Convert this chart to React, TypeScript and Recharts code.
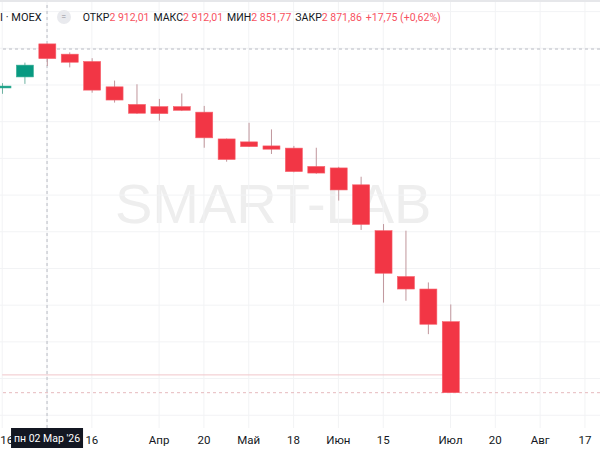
import {
  Bar,
  ComposedChart,
  ReferenceLine,
  XAxis,
  YAxis,
} from "recharts";

// weekly bars, Monday dates
const weeks = [
  "16.02", "23.02", "02.03", "09.03", "16.03", "23.03", "30.03", "06.04",
  "13.04", "20.04", "27.04", "04.05", "11.05", "18.05", "25.05", "01.06",
  "08.06", "15.06", "22.06", "29.06", "06.07", "13.07", "20.07", "27.07",
  "03.08", "10.08", "17.08", "24.08", "31.08",
];

const opens = [
  2792, 2822, 2912.01, 2884, 2864, 2795, 2747, 2741, 2741, 2726, 2653,
  2645, 2634, 2628, 2578, 2574, 2528, 2403, 2278, 2244, 2155,
];
const highs = [
  2805, 2861, 2912.01, 2889, 2873, 2812, 2802, 2762, 2777, 2743, 2654,
  2697, 2679, 2634, 2629, 2577, 2550, 2421, 2403, 2262, 2202,
];
const lows = [
  2776, 2803, 2851.77, 2848, 2779, 2752, 2721, 2703, 2729, 2629, 2591,
  2631, 2612, 2562, 2558, 2485, 2405, 2207, 2212, 2121, 1961.5,
];
const closes = [
  2797, 2854.11, 2871.86, 2862, 2786, 2759, 2723, 2722, 2731, 2656, 2597,
  2632, 2625, 2564, 2560, 2514, 2420, 2287, 2244, 2148, 1961.5,
];

const tickWeeks = [
  "16.02", "16.03", "06.04", "20.04", "04.05", "18.05", "01.06", "15.06",
  "06.07", "20.07", "03.08", "17.08",
];
const tickLabels = [
  "16", "16", "Апр", "20", "Май", "18", "Июн", "15", "Июл", "20", "Авг", "17",
];
const gridWeeks = ["02.03", ...tickWeeks];
const gridPrices = [1900, 2000, 2100, 2200, 2300, 2400, 2500, 2600, 2700, 2800, 2900, 3000];

const levelPrice = 2010;
const crosshairWeek = "02.03";
const crosshairPrice = 2898;
const crosshairText = "пн 02 Мар '26";

const UP = "#089981";
const DOWN = "#f23645";
const DOMAIN: [number, number] = [1865.3, 3031.6];
const CHART_W = 650;
const CHART_H = 450;
const AXIS_H = 22;

const data = weeks.map((week, i) =>
  i < opens.length
    ? {
        week,
        open: opens[i],
        high: highs[i],
        low: lows[i],
        close: closes[i],
        range: [lows[i], highs[i]],
      }
    : { week }
);

const lastClose = closes[closes.length - 1];
const tickText: Record<string, string> = {};
tickWeeks.forEach((w, i) => (tickText[w] = tickLabels[i]));

function Candle(props: any) {
  const { x, y, width, height, payload } = props;
  if (!payload || payload.open == null) return null;
  const { open, high, low, close } = payload;
  const top = Math.min(y, y + height);
  const bottom = Math.max(y, y + height);
  const per = high === low ? 0 : (bottom - top) / (high - low);
  const yOf = (v: number) => top + (high - v) * per;
  const up = close >= open;
  const cx = x + width / 2;
  const bodyTop = yOf(Math.max(open, close));
  const bodyH = Math.max(1.5, Math.abs(yOf(open) - yOf(close)));
  return (
    <g>
      <line
        x1={cx}
        x2={cx}
        y1={top}
        y2={bottom}
        stroke={up ? "#6fb3a3" : "#c0969c"}
        strokeWidth={1}
      />
      <rect
        x={x}
        y={bodyTop}
        width={width}
        height={bodyH}
        fill={up ? UP : DOWN}
        stroke={up ? "#35ad93" : "#f7606c"}
        strokeWidth={0.6}
      />
    </g>
  );
}

function TimeTick(props: any) {
  const { x, y, payload } = props;
  const label = tickText[payload.value];
  if (!label) return null;
  const first = payload.value === weeks[0];
  return (
    <text
      x={first ? x - 2 : x}
      y={y}
      dy="0.71em"
      textAnchor={first ? "start" : "middle"}
      fill="#131722"
      fontSize={11.5}
      fontFamily="Roboto, sans-serif"
    >
      {label}
    </text>
  );
}

function CrossLabel(props: any) {
  const { viewBox } = props;
  if (!viewBox) return null;
  const cx = viewBox.x;
  const y0 = viewBox.y + viewBox.height;
  return (
    <g>
      <rect x={cx - 36} y={y0} width={72} height={20} fill="#131722" />
      <text
        x={cx}
        y={y0 + 14}
        textAnchor="middle"
        fill="#ffffff"
        fontSize={10.5}
        fontFamily="Roboto, sans-serif"
      >
        {crosshairText}
      </text>
    </g>
  );
}

const labelStyle = { color: "#131722" };
const valueStyle = { color: "#f7525f", marginRight: 4 };

export default function App() {
  return (
    <div
      style={{
        position: "fixed",
        left: 0,
        top: 0,
        width: 600,
        height: 450,
        overflow: "hidden",
        background: "#ffffff",
        fontFamily: "Roboto, sans-serif",
      }}
    >
      <div
        style={{
          position: "absolute",
          left: 115,
          top: 176,
          fontSize: 56,
          lineHeight: 1,
          fontFamily: "'Liberation Sans', Arial, sans-serif",
          color: "#eeeeee",
          whiteSpace: "nowrap",
        }}
      >
        SMART-LAB
      </div>

      {/* background layer: grid, levels, crosshair, time axis */}
      <div style={{ position: "absolute", left: -9, top: 0 }}>
        <ComposedChart
          width={CHART_W}
          height={CHART_H}
          data={data}
          margin={{ top: 0, right: 0, bottom: 0, left: 0 }}
          barCategoryGap={0}
        >
          <XAxis
            dataKey="week"
            interval={0}
            height={AXIS_H}
            axisLine={false}
            tickLine={false}
            tick={<TimeTick />}
          />
          <YAxis hide domain={DOMAIN} allowDataOverflow />
          {gridPrices.map((p) => (
            <ReferenceLine key={"h" + p} y={p} stroke="#f2f3f5" strokeWidth={1} />
          ))}
          {gridWeeks.map((w) => (
            <ReferenceLine key={"v" + w} x={w} stroke="#f2f3f5" strokeWidth={1} />
          ))}
          <ReferenceLine
            segment={[
              { x: weeks[0], y: levelPrice },
              { x: weeks[opens.length - 1], y: levelPrice },
            ]}
            stroke="#f1c6ca"
            strokeWidth={1}
          />
          <ReferenceLine
            y={lastClose}
            stroke="#e6b9bd"
            strokeDasharray="3 3"
            strokeWidth={1}
          />
          <ReferenceLine
            y={crosshairPrice}
            stroke="#b8bbc3"
            strokeDasharray="3 3"
            strokeWidth={1}
          />
          <ReferenceLine
            x={crosshairWeek}
            stroke="#b8bbc3"
            strokeDasharray="3 3"
            strokeWidth={1}
            label={<CrossLabel />}
          />
          <Bar dataKey="range" barSize={17} shape={() => null} isAnimationActive={false} />
        </ComposedChart>
      </div>

      {/* candles on top */}
      <div style={{ position: "absolute", left: -9, top: 0 }}>
        <ComposedChart
          width={CHART_W}
          height={CHART_H}
          data={data}
          margin={{ top: 0, right: 0, bottom: AXIS_H, left: 0 }}
          barCategoryGap={0}
        >
          <XAxis dataKey="week" hide />
          <YAxis hide domain={DOMAIN} allowDataOverflow />
          <Bar
            dataKey="range"
            barSize={17}
            shape={<Candle />}
            isAnimationActive={false}
          />
        </ComposedChart>
      </div>

      <div
        style={{
          position: "absolute",
          left: 0,
          right: 0,
          top: 0,
          height: 2,
          background: "#e6e7ea",
        }}
      />
      <div
        style={{
          position: "absolute",
          left: 0,
          top: 9,
          fontSize: 10.5,
          color: "#131722",
          whiteSpace: "nowrap",
          display: "flex",
          alignItems: "center",
          height: 16,
        }}
      >
        <span style={{ fontSize: 11 }}>I · MOEX</span>
        <span
          style={{
            display: "inline-block",
            width: 14,
            height: 14,
            borderRadius: 7,
            background: "#e9eaee",
            color: "#8a8d96",
            fontSize: 9,
            lineHeight: "14px",
            textAlign: "center",
            marginLeft: 15,
            marginRight: 12,
          }}
        >
          =
        </span>
        <span style={labelStyle}>ОТКР</span>
        <span style={valueStyle}>2 912,01</span>
        <span style={labelStyle}>МАКС</span>
        <span style={valueStyle}>2 912,01</span>
        <span style={labelStyle}>МИН</span>
        <span style={valueStyle}>2 851,77</span>
        <span style={labelStyle}>ЗАКР</span>
        <span style={valueStyle}>2 871,86</span>
        <span style={valueStyle}>+17,75 (+0,62%)</span>
      </div>
    </div>
  );
}
